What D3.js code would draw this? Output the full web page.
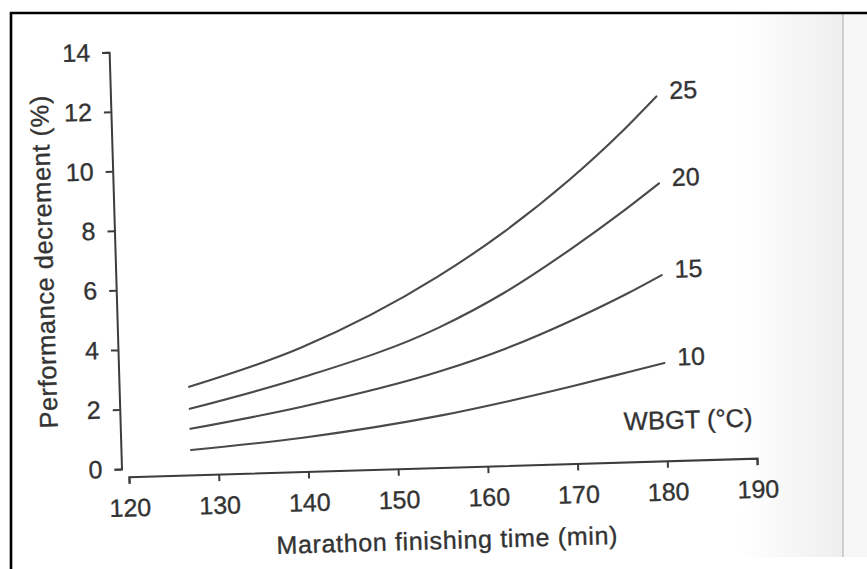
<!DOCTYPE html>
<html>
<head>
<meta charset="utf-8">
<script src="https://cdn.jsdelivr.net/npm/d3@7"></script>
<style>
  html, body { margin: 0; padding: 0; background: #fff; }
  svg { display: block; }
  text { font-family: "Liberation Sans", Arial, Helvetica, sans-serif; fill: #333; stroke: #333; stroke-width: 0.35px; }
</style>
</head>
<body>
<svg id="chart" width="867" height="569"></svg>
<script>
// Marathon finishing time (min) at which each curve was read
const times = [127, 139.5, 155, 162.5, 170, 176, 180];

// Performance decrement (%) for each WBGT level (°C)
const wbgt25 = [2.69, 3.88, 6.13, 7.56, 9.25, 10.81, 11.97];
const wbgt20 = [1.95, 2.88, 4.43, 5.55, 6.94, 8.17, 9.05];
const wbgt15 = [1.28, 1.91, 2.96, 3.67, 4.56, 5.37, 5.97];
const wbgt10 = [0.57, 0.87, 1.48, 1.89, 2.35, 2.75, 3.02];

const seriesNames = ["25", "20", "15", "10"];
const seriesValues = [wbgt25, wbgt20, wbgt15, wbgt10];

const xTicks = [120, 130, 140, 150, 160, 170, 180, 190];
const yTicks = [0, 2, 4, 6, 8, 10, 12, 14];

const svg = d3.select("#chart");

// page background: white sheet with a faint shaded strip near its right edge
const defs = svg.append("defs");
const grad = defs.append("linearGradient").attr("id", "edgeShade")
  .attr("x1", "0").attr("x2", "1").attr("y1", "0").attr("y2", "0");
grad.append("stop").attr("offset", "0").attr("stop-color", "#fff");
grad.append("stop").attr("offset", "1").attr("stop-color", "#eeeeee");
svg.append("rect").attr("x", 0).attr("y", 0).attr("width", 867).attr("height", 569).attr("fill", "#fff");
svg.append("rect").attr("x", 740).attr("y", 14).attr("width", 103).attr("height", 543).attr("fill", "url(#edgeShade)");
svg.append("rect").attr("x", 843).attr("y", 14).attr("width", 24).attr("height", 543).attr("fill", "#f7f7f7");
svg.append("line").attr("x1", 843).attr("x2", 843).attr("y1", 14).attr("y2", 557)
  .attr("stroke", "#b5b5b5").attr("stroke-width", 1.2);

// frame lines along top and left
svg.append("line").attr("x1", 10).attr("x2", 867).attr("y1", 13).attr("y2", 13)
  .attr("stroke", "#000").attr("stroke-width", 2.6);
svg.append("line").attr("x1", 11).attr("x2", 11).attr("y1", 12).attr("y2", 569)
  .attr("stroke", "#000").attr("stroke-width", 2.6);

// the plot itself sits slightly tilted on the sheet
const g = svg.append("g").attr("transform", "rotate(-1.7, 121.5, 469)");

const x = d3.scaleLinear().domain([120, 190]).range([128.7, 757]);
const y = d3.scaleLinear().domain([0, 14]).range([469, 52]);

const axisColor = "#3c3c3c";

const xAxis = g.append("g")
  .attr("transform", "translate(0,477)")
  .call(d3.axisBottom(x).tickValues(xTicks).tickSize(7).tickPadding(15).tickFormat(d3.format("d")));
const yAxis = g.append("g")
  .attr("transform", "translate(121.5,0)")
  .call(d3.axisLeft(y).tickValues(yTicks).tickSize(7).tickPadding(12).tickFormat(d3.format("d")));

[xAxis, yAxis].forEach(a => {
  a.select(".domain").attr("stroke", axisColor).attr("stroke-width", 2);
  a.selectAll(".tick line").attr("stroke", axisColor).attr("stroke-width", 2);
  a.selectAll(".tick text")
    .attr("fill", "#333")
    .style("font-size", "25px")
    .style("font-family", "'Liberation Sans', Arial, Helvetica, sans-serif");
});

// axis titles
g.append("text")
  .attr("x", 444.6).attr("y", 558.5)
  .attr("text-anchor", "middle")
  .attr("textLength", 341).attr("lengthAdjust", "spacing")
  .style("font-size", "25px")
  .text("Marathon finishing time (min)");

g.append("text")
  .attr("transform", "translate(59,260) rotate(-90)")
  .attr("text-anchor", "middle")
  .attr("textLength", 333).attr("lengthAdjust", "spacing")
  .style("font-size", "25.5px")
  .text("Performance decrement (%)");

// one curve per WBGT level
const line = d3.line()
  .x(d => x(d[0]))
  .y(d => y(d[1]))
  .curve(d3.curveMonotoneX);

seriesValues.forEach((vals, i) => {
  const pts = times.map((t, j) => [t, vals[j]]);
  g.append("path")
    .datum(pts)
    .attr("d", line)
    .attr("fill", "none")
    .attr("stroke", "#4a4a4a")
    .attr("stroke-width", 2.1)
    .attr("stroke-linecap", "round");

  const last = pts[pts.length - 1];
  g.append("text")
    .attr("x", x(last[0]) + 13)
    .attr("y", y(last[1]) + 3)
    .style("font-size", "25px")
    .text(seriesNames[i]);
});

// key for the curve labels
g.append("text")
  .attr("x", x(175.3)).attr("y", y(0.8))
  .style("font-size", "25.5px")
  .text("WBGT (°C)");
</script>
</body>
</html>
